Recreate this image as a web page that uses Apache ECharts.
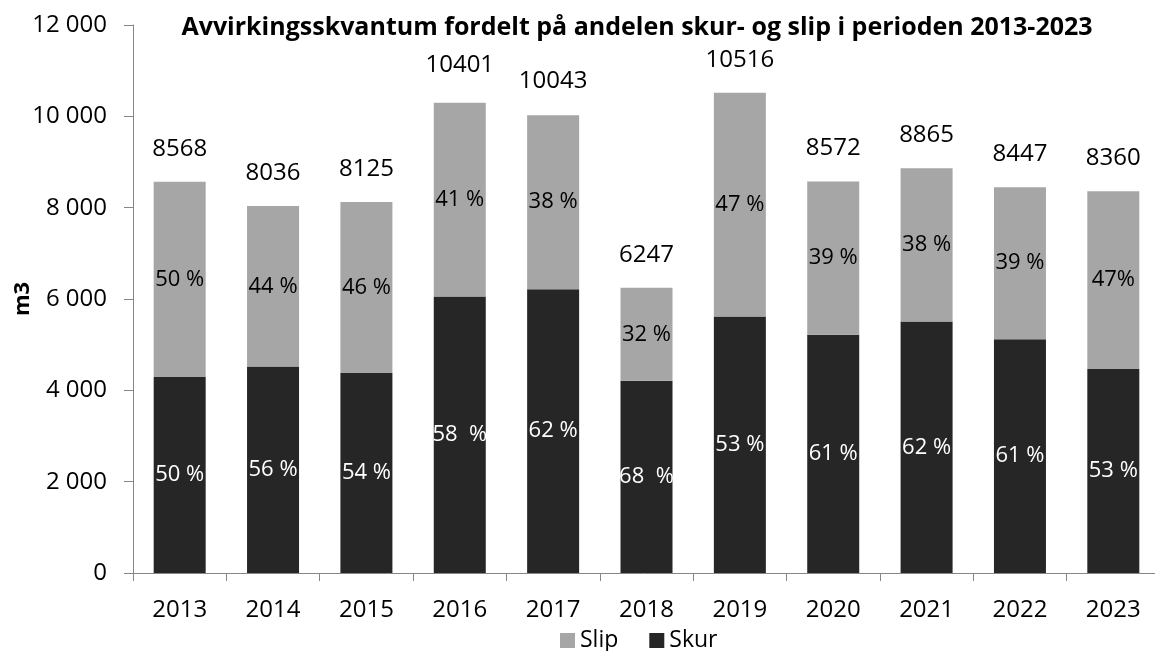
<!DOCTYPE html>
<html>
<head>
<meta charset="utf-8">
<script src="https://cdn.jsdelivr.net/npm/echarts@6/dist/echarts.min.js"></script>
<style>
  html, body { margin: 0; padding: 0; background: #fff; }
  #main { width: 1155px; height: 651px; }
</style>
</head>
<body>
<div id="main"></div>
<script>
// år
const years = ['2013', '2014', '2015', '2016', '2017', '2018', '2019', '2020', '2021', '2022', '2023']
// m3 skur (nederst) og slip (øverst)
const skur = [4290, 4522, 4377, 6054, 6216, 4209, 5617, 5216, 5507, 5121, 4465]
const slip = [4278, 3514, 3748, 4246, 3810, 2038, 4899, 3356, 3358, 3326, 3895]
// totaltall skrevet over søylene
const totals = [8568, 8036, 8125, 10401, 10043, 6247, 10516, 8572, 8865, 8447, 8360]
// prosentetiketter
const skurPct = ['50 %', '56 %', '54 %', '58  %', '62 %', '68  %', '53 %', '61 %', '62 %', '61 %', '53 %']
const slipPct = ['50 %', '44 %', '46 %', '41 %', '38 %', '32 %', '47 %', '39 %', '38 %', '39 %', '47%']

const FONT = '"Open Sans", "Noto Sans", sans-serif'

const chart = echarts.init(document.getElementById('main'), null, { renderer: 'canvas' })

const option = {
  animation: false,
  textStyle: { fontFamily: FONT },
  title: {
    text: 'Avvirkingsskvantum fordelt på andelen skur- og slip i perioden 2013-2023',
    left: 632,
    textAlign: 'center',
    top: 10,
    textStyle: { fontFamily: FONT, fontSize: 25, fontWeight: 'bold', color: '#000' }
  },
  legend: {
    data: ['Slip', 'Skur'],
    left: 560,
    top: 629,
    padding: 0,
    itemWidth: 15,
    itemHeight: 15,
    itemGap: 31,
    icon: 'rect',
    textStyle: { fontFamily: FONT, fontSize: 23, color: '#000', padding: [0, 0, 0, 0] }
  },
  grid: { left: 133, right: -5, top: 25, bottom: 78, containLabel: false, outerBoundsMode: 'none' },
  xAxis: {
    type: 'category',
    data: years,
    axisLine: { lineStyle: { color: '#868686', width: 1 } },
    axisTick: { show: true, length: 8, lineStyle: { color: '#868686' } },
    axisLabel: { color: '#000', fontSize: 24, fontFamily: FONT, margin: 25 }
  },
  yAxis: {
    type: 'value',
    min: 0,
    max: 12000,
    interval: 2000,
    name: 'm3',
    nameLocation: 'middle',
    nameRotate: 90,
    nameGap: 99,
    nameMoveOverlap: false,
    nameTextStyle: { fontFamily: FONT, fontSize: 22, fontWeight: 'bold', color: '#000' },
    axisLine: { show: true, lineStyle: { color: '#868686', width: 1 } },
    axisTick: { show: true, length: 9, lineStyle: { color: '#868686' } },
    splitLine: { show: false },
    axisLabel: {
      color: '#000',
      fontSize: 24,
      fontFamily: FONT,
      margin: 26,
      formatter: v => String(v).replace(/\B(?=(\d{3})+(?!\d))/g, ' ')
    }
  },
  series: [
    {
      name: 'Skur',
      type: 'bar',
      stack: 'tot',
      barWidth: 52,
      data: skur,
      itemStyle: { color: '#262626' },
      label: {
        show: true,
        position: 'inside',
        color: '#fff',
        fontSize: 22,
        fontFamily: FONT,
        formatter: p => skurPct[p.dataIndex]
      }
    },
    {
      name: 'Slip',
      type: 'bar',
      stack: 'tot',
      barWidth: 52,
      data: slip,
      itemStyle: { color: '#a6a6a6' },
      label: {
        show: true,
        position: 'inside',
        color: '#000',
        fontSize: 22,
        fontFamily: FONT,
        formatter: p => slipPct[p.dataIndex]
      }
    },
    {
      name: 'Total',
      type: 'scatter',
      data: totals,
      symbolSize: 0,
      silent: true,
      itemStyle: { opacity: 1 },
      label: {
        show: true,
        position: 'inside',
        offset: [0, -33],
        color: '#000',
        opacity: 1,
        fontSize: 24,
        fontFamily: FONT,
        formatter: p => String(totals[p.dataIndex])
      }
    }
  ]
}

chart.setOption(option)
</script>
</body>
</html>
